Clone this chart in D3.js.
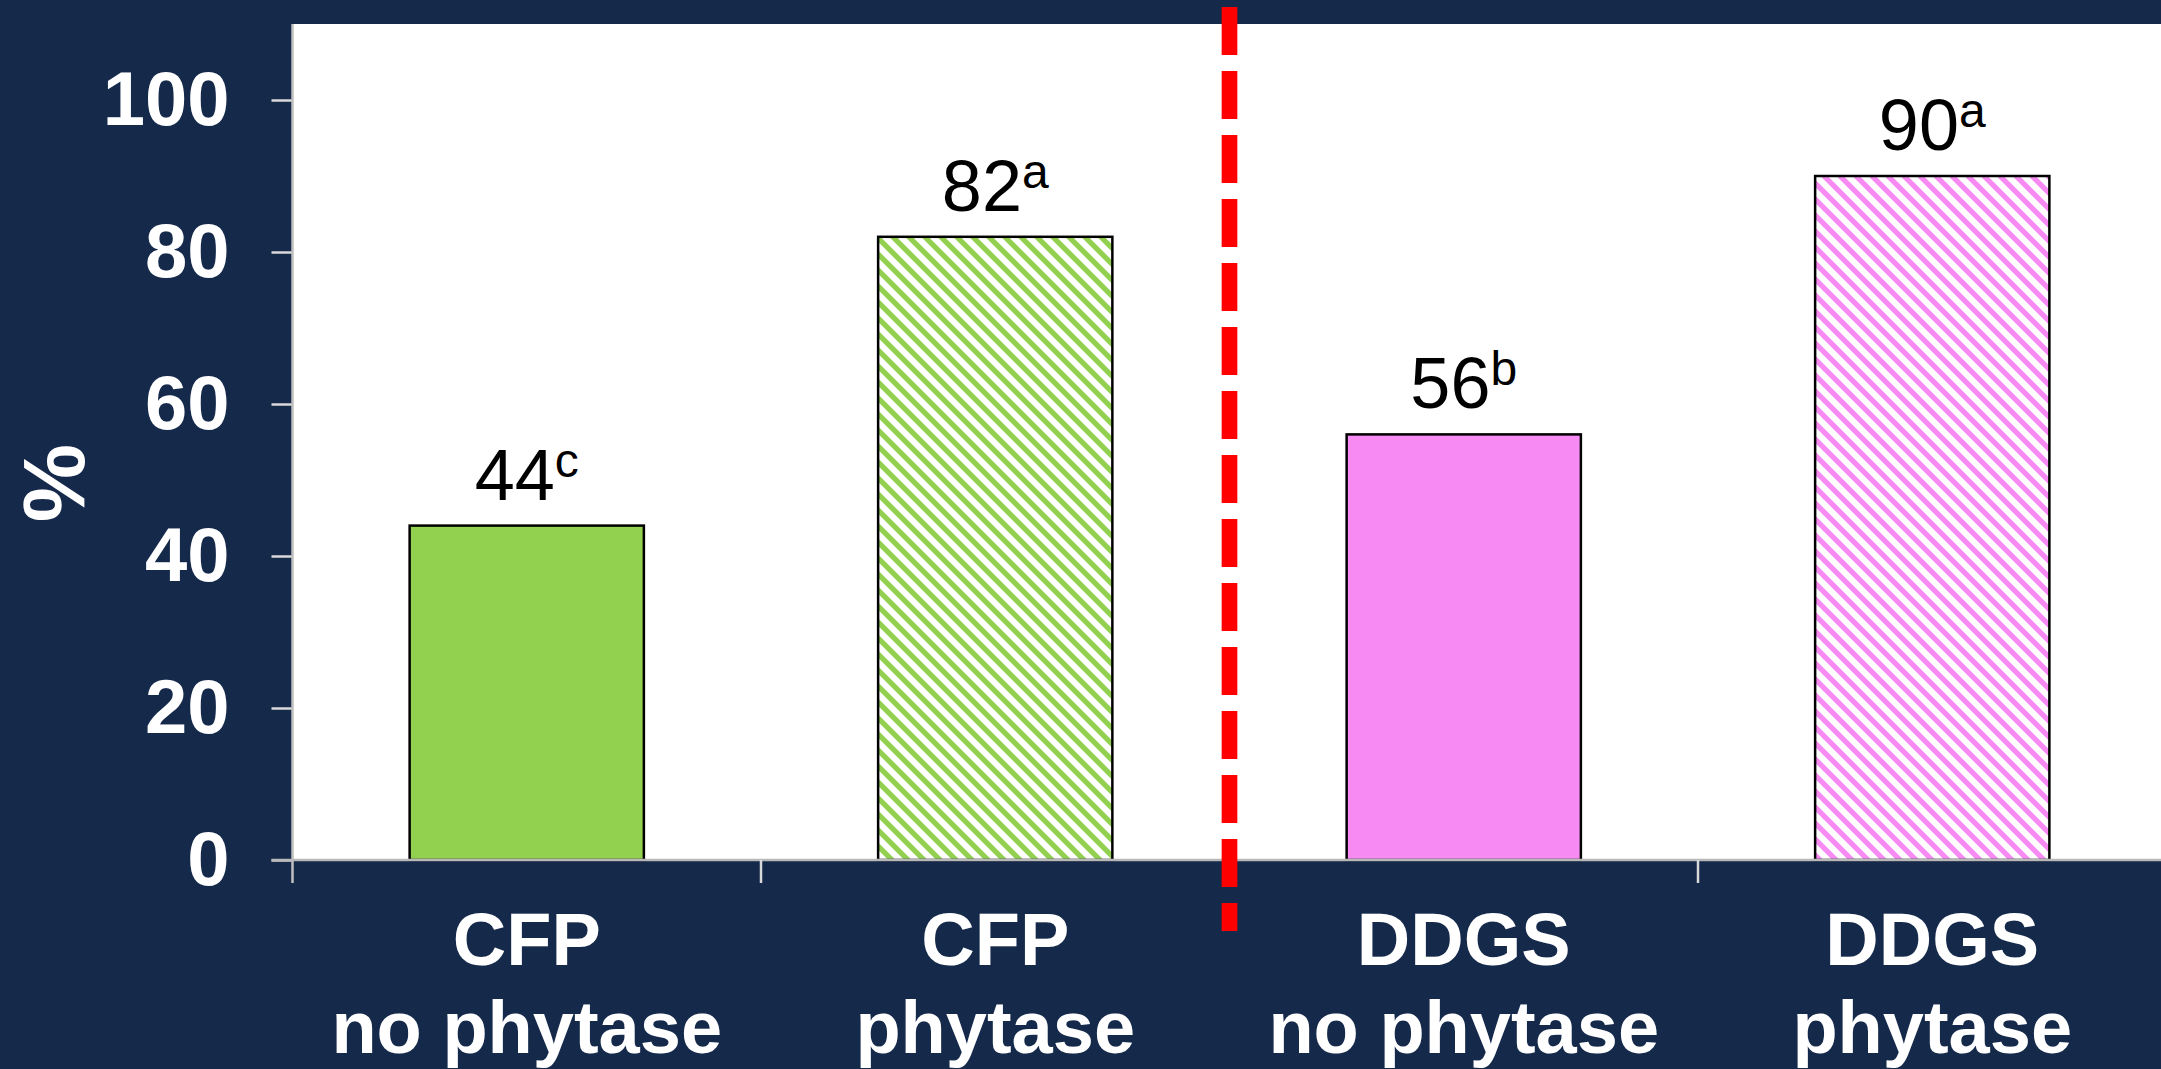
<!DOCTYPE html>
<html>
<head>
<meta charset="utf-8">
<script src="https://cdn.jsdelivr.net/npm/d3@7"></script>
<style>
  html, body { margin: 0; padding: 0; background: #15294b; overflow: hidden; }
  svg { display: block; font-family: "Liberation Sans", Arial, sans-serif; }
</style>
</head>
<body>
<svg id="chart" width="2161" height="1069"></svg>
<script>
const catLine1 = ["CFP", "CFP", "DDGS", "DDGS"];
const catLine2 = ["no phytase", "phytase", "no phytase", "phytase"];
const values = [44, 82, 56, 90];
const letters = ["c", "a", "b", "a"];
const hatched = [false, true, false, true];
const barColors = ["#92d050", "#92d050", "#f78bf3", "#f78bf3"];
const yTicks = [0, 20, 40, 60, 80, 100];
const yLabel = "%";

(function () {
const W = 2161, H = 1069;
const pLeft = 292.5, pRight = 2166.5, pTop = 24, pBottom = 860;

const svg = d3.select("#chart");

const x = d3.scaleBand().domain(d3.range(values.length))
  .range([pLeft, pRight]).paddingInner(0.5).paddingOuter(0.25);
const y = d3.scaleLinear().domain([0, 110]).range([pBottom, pTop]);

// patterns
const defs = svg.append("defs");
barColors.forEach((c, i) => {
  const p = defs.append("pattern").attr("id", "hatch" + i)
    .attr("patternUnits", "userSpaceOnUse").attr("width", 16).attr("height", 16);
  p.append("rect").attr("width", 16).attr("height", 16).attr("fill", "#fff");
  p.append("path").attr("d", "M-4,-4L20,20M-4,12L4,20M12,-4L20,4")
    .attr("stroke", c).attr("stroke-width", 5.2).attr("fill", "none");
});

// plot background
svg.append("rect").attr("x", pLeft).attr("y", pTop)
  .attr("width", W - pLeft).attr("height", pBottom - pTop).attr("fill", "#fff");

// bars
svg.selectAll("rect.bar").data(values).join("rect").attr("class", "bar")
  .attr("x", (d, i) => x(i))
  .attr("y", d => y(d))
  .attr("width", x.bandwidth())
  .attr("height", d => y(0) - y(d))
  .attr("fill", (d, i) => hatched[i] ? `url(#hatch${i})` : barColors[i])
  .attr("stroke", "#000").attr("stroke-width", 2.5);

// value labels
const lab = svg.selectAll("text.val").data(values).join("text").attr("class", "val")
  .attr("x", (d, i) => x(i) + x.bandwidth() / 2)
  .attr("y", d => y(d) - 26)
  .attr("text-anchor", "middle").attr("fill", "#000");
lab.append("tspan").attr("font-size", 72).text(d => d);
lab.append("tspan").attr("font-size", 48).attr("dy", -23).text((d, i) => letters[i]);

// y axis
const yAxis = d3.axisLeft(y).tickValues(yTicks).tickSize(21).tickPadding(42);
const gy = svg.append("g").attr("transform", `translate(${pLeft},0)`).call(yAxis);
gy.select(".domain").remove();
gy.selectAll(".tick line").attr("stroke", "#d9d9d9").attr("stroke-width", 2.5);
gy.selectAll(".tick text").attr("fill", "#fff").attr("font-size", 76)
  .attr("font-weight", "bold").attr("font-family", "'Liberation Sans', Arial, sans-serif");

// axis lines
svg.append("line").attr("x1", pLeft).attr("x2", pLeft).attr("y1", pTop).attr("y2", pBottom + 23)
  .attr("stroke", "#bfbfbf").attr("stroke-width", 2.5);
svg.append("line").attr("x1", pLeft - 21).attr("x2", W).attr("y1", pBottom).attr("y2", pBottom)
  .attr("stroke", "#b8b8b8").attr("stroke-width", 2.5);

// category boundary ticks
const bounds = d3.range(1, values.length).map(i => x.range()[0] + i * x.step());
svg.selectAll("line.ctick").data(bounds).join("line").attr("class", "ctick")
  .attr("x1", d => d).attr("x2", d => d).attr("y1", pBottom).attr("y2", pBottom + 23)
  .attr("stroke", "#d9d9d9").attr("stroke-width", 2.5);

// category labels
const cl = svg.selectAll("text.cat").data(values).join("text").attr("class", "cat")
  .attr("text-anchor", "middle").attr("fill", "#fff").attr("font-weight", "bold")
  .attr("font-size", 74);
cl.append("tspan").attr("x", (d, i) => x(i) + x.bandwidth() / 2).attr("y", 965)
  .text((d, i) => catLine1[i]);
cl.append("tspan").attr("x", (d, i) => x(i) + x.bandwidth() / 2).attr("y", 1053)
  .text((d, i) => catLine2[i]);

// y label
svg.append("text").attr("transform", "translate(84,483) rotate(-90)")
  .attr("text-anchor", "middle").attr("fill", "#fff").attr("font-weight", "bold")
  .attr("font-size", 88).text(yLabel);

// red dashed divider
const divX = x.range()[0] + 2 * x.step();
svg.append("line").attr("x1", divX).attr("x2", divX).attr("y1", 7).attr("y2", 931)
  .attr("stroke", "#ff0000").attr("stroke-width", 15.7)
  .attr("stroke-dasharray", "48,16");
})();
</script>
</body>
</html>
